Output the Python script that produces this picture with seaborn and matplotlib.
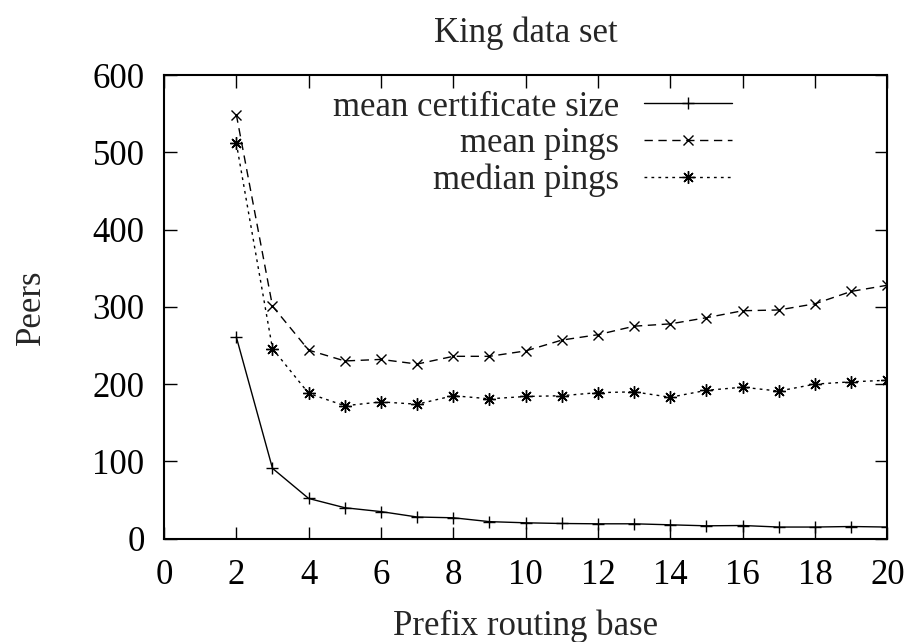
import matplotlib
matplotlib.use("Agg")
import matplotlib.pyplot as plt
import seaborn as sns
import pandas as pd

# Prefix routing base values
bases = list(range(2, 21))

# Peers per base
mean_cert_size = [261, 91, 52, 40, 35, 28, 27, 22, 20.5, 19.6, 19.2, 19.2, 17.9,
                  16.6, 17, 15, 15, 15.7, 15]
mean_pings = [549, 301, 244, 230, 232, 226, 236, 236, 243, 257, 264, 275, 278,
              286, 295, 296, 304, 320, 328]
median_pings = [512, 246, 188, 172, 177, 174, 185, 181, 184, 185, 189, 190, 183,
                192, 196, 191, 200, 203, 205]

x_ticks = list(range(0, 21, 2))
y_ticks = list(range(0, 601, 100))

sns.set_theme(style="ticks")
plt.rcParams["font.family"] = ["Liberation Serif", "DejaVu Serif"]

FS = 25

fig = plt.figure(figsize=(9.11, 6.42), dpi=100)
ax = fig.add_axes([0.180, 0.161, 0.794, 0.722])

df = pd.DataFrame({"base": bases, "cert": mean_cert_size,
                   "mean": mean_pings, "median": median_pings})

common = dict(ax=ax, color="black", lw=1.0, markeredgecolor="black",
              markerfacecolor="black", markeredgewidth=1.0)
sns.lineplot(data=df, x="base", y="cert", marker="+", markersize=9,
             label="mean certificate size", **common)
sns.lineplot(data=df, x="base", y="mean", linestyle=(0, (6, 4)), marker="x",
             markersize=7, label="mean pings", **common)
sns.lineplot(data=df, x="base", y="median", linestyle=(0, (2, 3)),
             marker=(8, 2, 0), markersize=9, label="median pings", **common)

ax.set_xlim(0, 20)
ax.set_ylim(0, 600)
ax.set_xticks(x_ticks)
ax.set_yticks(y_ticks)
ax.tick_params(direction="in", length=9, width=1.0, top=True, right=True,
               labelsize=FS, colors="black")
ax.tick_params(axis="y", pad=14)
ax.tick_params(axis="x", pad=15)
for s in ax.spines.values():
    s.set_linewidth(1.5)
    s.set_color("black")

ax.set_title("King data set", fontsize=FS, pad=24)
ax.set_xlabel("Prefix routing base", fontsize=FS, labelpad=12)
ax.set_ylabel("Peers", fontsize=FS, labelpad=32)

leg = ax.legend(loc="upper right", bbox_to_anchor=(0.812, 1.008), frameon=False,
                markerfirst=False, fontsize=FS, handlelength=2.55,
                handletextpad=0.7, labelspacing=0.1, borderaxespad=0.15)
for t in leg.get_texts():
    t.set_ha("right")
leg._legend_box.align = "right"

fig.savefig("out.png", dpi=100)
